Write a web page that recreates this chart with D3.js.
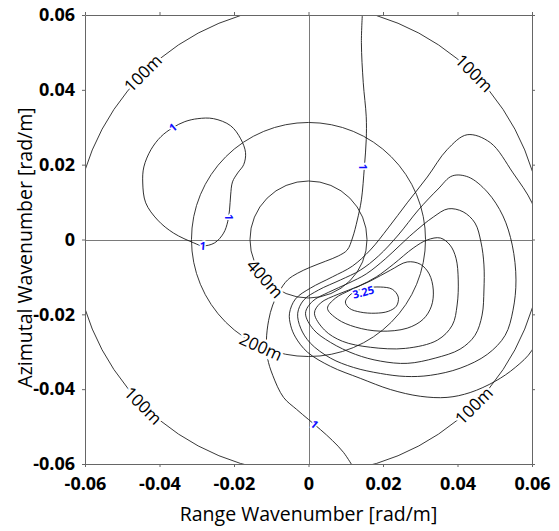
<!DOCTYPE html>
<html>
<head>
<meta charset="utf-8">
<script src="https://cdn.jsdelivr.net/npm/d3@7"></script>
<style>
  body { margin: 0; background: #fff; }
  svg text { font-family: "Open Sans", sans-serif; }
</style>
</head>
<body>
<div id="chart"></div>
<script>
// axis ticks [rad/m]
const ticks = [-0.06, -0.04, -0.02, 0, 0.02, 0.04, 0.06];

// reference wavelength circles [m]
const wavelengths = [100, 200, 400];

// contour level 1, main line from the top edge to the bottom edge [kx, ky]
const levelOneLine = [
  [0.0145, 0.0610], [0.0142, 0.0526], [0.0147, 0.0419], [0.0155, 0.0328],
  [0.0155, 0.0267], [0.0150, 0.0194], [0.0142, 0.0106], [0.0131, 0.0052],
  [0.0118, 0.0004], [0.0104, -0.0028], [0.0080, -0.0044], [0.0046, -0.0058],
  [0.0005, -0.0074], [-0.0029, -0.0090], [-0.0056, -0.0108], [-0.0078, -0.0138],
  [-0.0096, -0.0175], [-0.0107, -0.0216], [-0.0113, -0.0269], [-0.0110, -0.0317],
  [-0.0096, -0.0363], [-0.0067, -0.0422], [-0.0032, -0.0454], [0.0000, -0.0481],
  [0.0032, -0.0508], [0.0064, -0.0537], [0.0094, -0.0569], [0.0121, -0.0610]
];

// contour level 1, closed loop on the left
const levelOneLoop = [
  [-0.0284, -0.0017], [-0.0308, -0.0009], [-0.0362, 0.0017], [-0.0405, 0.0052],
  [-0.0437, 0.0098], [-0.0445, 0.0151], [-0.0442, 0.0194], [-0.0423, 0.0240],
  [-0.0396, 0.0275], [-0.0364, 0.0299], [-0.0332, 0.0315], [-0.0297, 0.0323],
  [-0.0255, 0.0323], [-0.0209, 0.0304], [-0.0182, 0.0269], [-0.0169, 0.0232],
  [-0.0174, 0.0200], [-0.0190, 0.0178], [-0.0204, 0.0154], [-0.0209, 0.0119],
  [-0.0212, 0.0079], [-0.0217, 0.0047], [-0.0228, 0.0017], [-0.0252, -0.0009]
];

// closed rings around the peak, outermost first
const ringA = [
  [-0.0051, -0.0197], [-0.0035, -0.0159], [0.0005, -0.0130], [0.0064, -0.0100],
  [0.0118, -0.0071], [0.0166, -0.0028], [0.0214, 0.0031], [0.0265, 0.0098],
  [0.0319, 0.0167], [0.0372, 0.0240], [0.0426, 0.0280], [0.0488, 0.0259],
  [0.0549, 0.0178], [0.0600, 0.0098], [0.0627, 0.0012], [0.0643, -0.0108],
  [0.0630, -0.0216], [0.0600, -0.0296], [0.0555, -0.0342], [0.0501, -0.0379],
  [0.0434, -0.0409], [0.0372, -0.0422], [0.0300, -0.0419], [0.0220, -0.0401],
  [0.0139, -0.0371], [0.0059, -0.0339], [-0.0003, -0.0301], [-0.0035, -0.0261],
  [-0.0048, -0.0229]
];
const ringB = [
  [-0.0029, -0.0197], [-0.0013, -0.0162], [0.0027, -0.0135], [0.0086, -0.0108],
  [0.0139, -0.0082], [0.0188, -0.0044], [0.0241, 0.0012], [0.0295, 0.0079],
  [0.0348, 0.0135], [0.0386, 0.0170], [0.0429, 0.0167], [0.0480, 0.0127],
  [0.0522, 0.0063], [0.0547, -0.0015], [0.0557, -0.0108], [0.0549, -0.0189],
  [0.0528, -0.0256], [0.0480, -0.0307], [0.0407, -0.0344], [0.0327, -0.0363],
  [0.0260, -0.0366], [0.0193, -0.0358], [0.0121, -0.0342], [0.0059, -0.0317],
  [0.0005, -0.0277], [-0.0021, -0.0237]
];
const ringC = [
  [-0.0008, -0.0197], [0.0011, -0.0165], [0.0054, -0.0141], [0.0107, -0.0117],
  [0.0155, -0.0092], [0.0206, -0.0052], [0.0246, -0.0015], [0.0281, 0.0017],
  [0.0335, 0.0060], [0.0375, 0.0082], [0.0415, 0.0074], [0.0447, 0.0044],
  [0.0463, -0.0007], [0.0471, -0.0068], [0.0471, -0.0135], [0.0466, -0.0202],
  [0.0447, -0.0256], [0.0407, -0.0293], [0.0340, -0.0317], [0.0265, -0.0331],
  [0.0193, -0.0325], [0.0126, -0.0307], [0.0059, -0.0275], [0.0013, -0.0240]
];
const ringD = [
  [0.0016, -0.0197], [0.0032, -0.0170], [0.0080, -0.0146], [0.0134, -0.0125],
  [0.0182, -0.0100], [0.0228, -0.0066], [0.0281, -0.0023], [0.0319, -0.0001],
  [0.0354, 0.0004], [0.0380, -0.0015], [0.0396, -0.0050], [0.0402, -0.0108],
  [0.0399, -0.0175], [0.0386, -0.0229], [0.0346, -0.0269], [0.0260, -0.0291],
  [0.0166, -0.0288], [0.0091, -0.0272], [0.0043, -0.0242]
];
const ringE = [
  [0.0051, -0.0184], [0.0072, -0.0157], [0.0113, -0.0135], [0.0166, -0.0111],
  [0.0220, -0.0082], [0.0265, -0.0060], [0.0300, -0.0066], [0.0324, -0.0092],
  [0.0335, -0.0135], [0.0330, -0.0178], [0.0308, -0.0213], [0.0265, -0.0237],
  [0.0193, -0.0245], [0.0126, -0.0234], [0.0078, -0.0213]
];
const ringPeak = [
  [0.0099, -0.0167], [0.0118, -0.0143], [0.0155, -0.0130], [0.0193, -0.0127],
  [0.0225, -0.0133], [0.0241, -0.0154], [0.0236, -0.0178], [0.0214, -0.0192],
  [0.0179, -0.0197], [0.0139, -0.0194], [0.0110, -0.0184]
];

// contour labels: text and the point of the line they sit on
const contourLabels = [
  { text: "1", at: [-0.0364, 0.0299] },
  { text: "1", at: [-0.0214, 0.0060] },
  { text: "1", at: [-0.0284, -0.0017] },
  { text: "1", at: [0.0147, 0.0194] },
  { text: "1", at: [0.0016, -0.0494] },
  { text: "3.25", at: [0.0147, -0.0141] }
];
const contourLabelAngles = [-40, 90, 5, 90, 40, -15];

// wavelength labels: wavelength and polar angle [deg]
const circleLabels = [
  { wl: 100, angle: 135 }, { wl: 100, angle: 45 },
  { wl: 100, angle: -135 }, { wl: 100, angle: -45 },
  { wl: 200, angle: -114 }, { wl: 400, angle: -138 }
];

const width = 559, height = 531;
const margin = { top: 15, right: 27, bottom: 67, left: 85 };

const svg = d3.select("#chart").append("svg")
  .attr("width", width).attr("height", height);

const x = d3.scaleLinear().domain([-0.06, 0.06]).range([margin.left, width - margin.right]);
const y = d3.scaleLinear().domain([-0.06, 0.06]).range([height - margin.bottom, margin.top]);

svg.append("clipPath").attr("id", "plot")
  .append("rect")
  .attr("x", x(-0.06)).attr("y", y(0.06))
  .attr("width", x(0.06) - x(-0.06)).attr("height", y(-0.06) - y(0.06));

const fmt = d => d === 0 ? "0" : d.toFixed(2);

// zero lines
svg.append("line")
  .attr("x1", x(-0.06)).attr("x2", x(0.06))
  .attr("y1", Math.round(y(0)) + 0.5).attr("y2", Math.round(y(0)) + 0.5)
  .attr("stroke", "#7a7a7a");
svg.append("line")
  .attr("y1", y(-0.06)).attr("y2", y(0.06))
  .attr("x1", Math.round(x(0)) + 0.5).attr("x2", Math.round(x(0)) + 0.5)
  .attr("stroke", "#7a7a7a");

const plot = svg.append("g").attr("clip-path", "url(#plot)");

// wavelength circles
plot.selectAll("circle.wl")
  .data(wavelengths)
  .join("circle")
  .attr("class", "wl")
  .attr("cx", x(0)).attr("cy", y(0))
  .attr("r", d => x(2 * Math.PI / d) - x(0))
  .attr("fill", "none")
  .attr("stroke", "#222")
  .attr("stroke-width", 0.9);

// contours
const open = d3.line().x(d => x(d[0])).y(d => y(d[1])).curve(d3.curveCatmullRom);
const closed = d3.line().x(d => x(d[0])).y(d => y(d[1])).curve(d3.curveCatmullRomClosed);

plot.append("path").attr("d", open(levelOneLine));
[levelOneLoop, ringA, ringB, ringC, ringD, ringE, ringPeak].forEach(r => {
  plot.append("path").attr("d", closed(r));
});
plot.selectAll("path")
  .attr("fill", "none")
  .attr("stroke", "#1a1a1a")
  .attr("stroke-width", 0.9);

// wavelength labels
svg.append("g").selectAll("text")
  .data(circleLabels)
  .join("text")
  .attr("transform", d => {
    const k = 2 * Math.PI / d.wl, a = d.angle * Math.PI / 180;
    const px = x(k * Math.cos(a)), py = y(k * Math.sin(a));
    let rot = Math.atan2(-Math.cos(a), -Math.sin(a)) * 180 / Math.PI;
    if (rot > 90) rot -= 180;
    if (rot <= -90) rot += 180;
    return `translate(${px},${py}) rotate(${rot})`;
  })
  .attr("text-anchor", "middle")
  .attr("dy", "0.35em")
  .attr("font-size", 17)
  .attr("fill", "#000")
  .attr("stroke", "#fff")
  .attr("stroke-width", 5)
  .attr("paint-order", "stroke")
  .text(d => d.wl + "m");

// contour labels
svg.append("g").selectAll("text")
  .data(contourLabels)
  .join("text")
  .attr("transform", (d, i) => `translate(${x(d.at[0])},${y(d.at[1])}) rotate(${contourLabelAngles[i]})`)
  .attr("text-anchor", "middle")
  .attr("dy", "0.35em")
  .attr("font-size", 11)
  .attr("font-weight", "bold")
  .attr("fill", "#1010ff")
  .attr("stroke", "#fff")
  .attr("stroke-width", 3)
  .attr("paint-order", "stroke")
  .text(d => d.text);

// axes
const axisStyle = g => {
  g.select(".domain").attr("stroke", "#666");
  g.selectAll(".tick line").attr("stroke", "#666");
  g.selectAll(".tick text")
    .attr("font-family", "'Liberation Sans', Arial, sans-serif")
    .attr("font-weight", "bold")
    .attr("font-size", 18)
    .attr("fill", "#000");
};

svg.append("g")
  .attr("transform", `translate(0,${y(-0.06)})`)
  .call(d3.axisBottom(x).tickValues(ticks).tickSize(3).tickSizeOuter(0).tickPadding(10).tickFormat(fmt))
  .call(axisStyle);
svg.append("g")
  .attr("transform", `translate(${x(-0.06)},0)`)
  .call(d3.axisLeft(y).tickValues(ticks).tickSize(3).tickSizeOuter(0).tickPadding(7).tickFormat(fmt))
  .call(axisStyle);
svg.append("g")
  .attr("transform", `translate(0,${y(0.06)})`)
  .call(d3.axisTop(x).tickValues(ticks).tickSize(3).tickSizeOuter(0).tickFormat(""))
  .call(axisStyle);
svg.append("g")
  .attr("transform", `translate(${x(0.06)},0)`)
  .call(d3.axisRight(y).tickValues(ticks).tickSize(3).tickSizeOuter(0).tickFormat(""))
  .call(axisStyle);

// titles
svg.append("text")
  .attr("x", x(0)).attr("y", 521)
  .attr("text-anchor", "middle")
  .attr("font-size", 19.5)
  .text("Range Wavenumber [rad/m]");
svg.append("text")
  .attr("transform", "translate(31.5,247.5) rotate(-90)")
  .attr("text-anchor", "middle")
  .attr("font-size", 19.5)
  .text("Azimutal Wavenumber [rad/m]");
</script>
</body>
</html>
